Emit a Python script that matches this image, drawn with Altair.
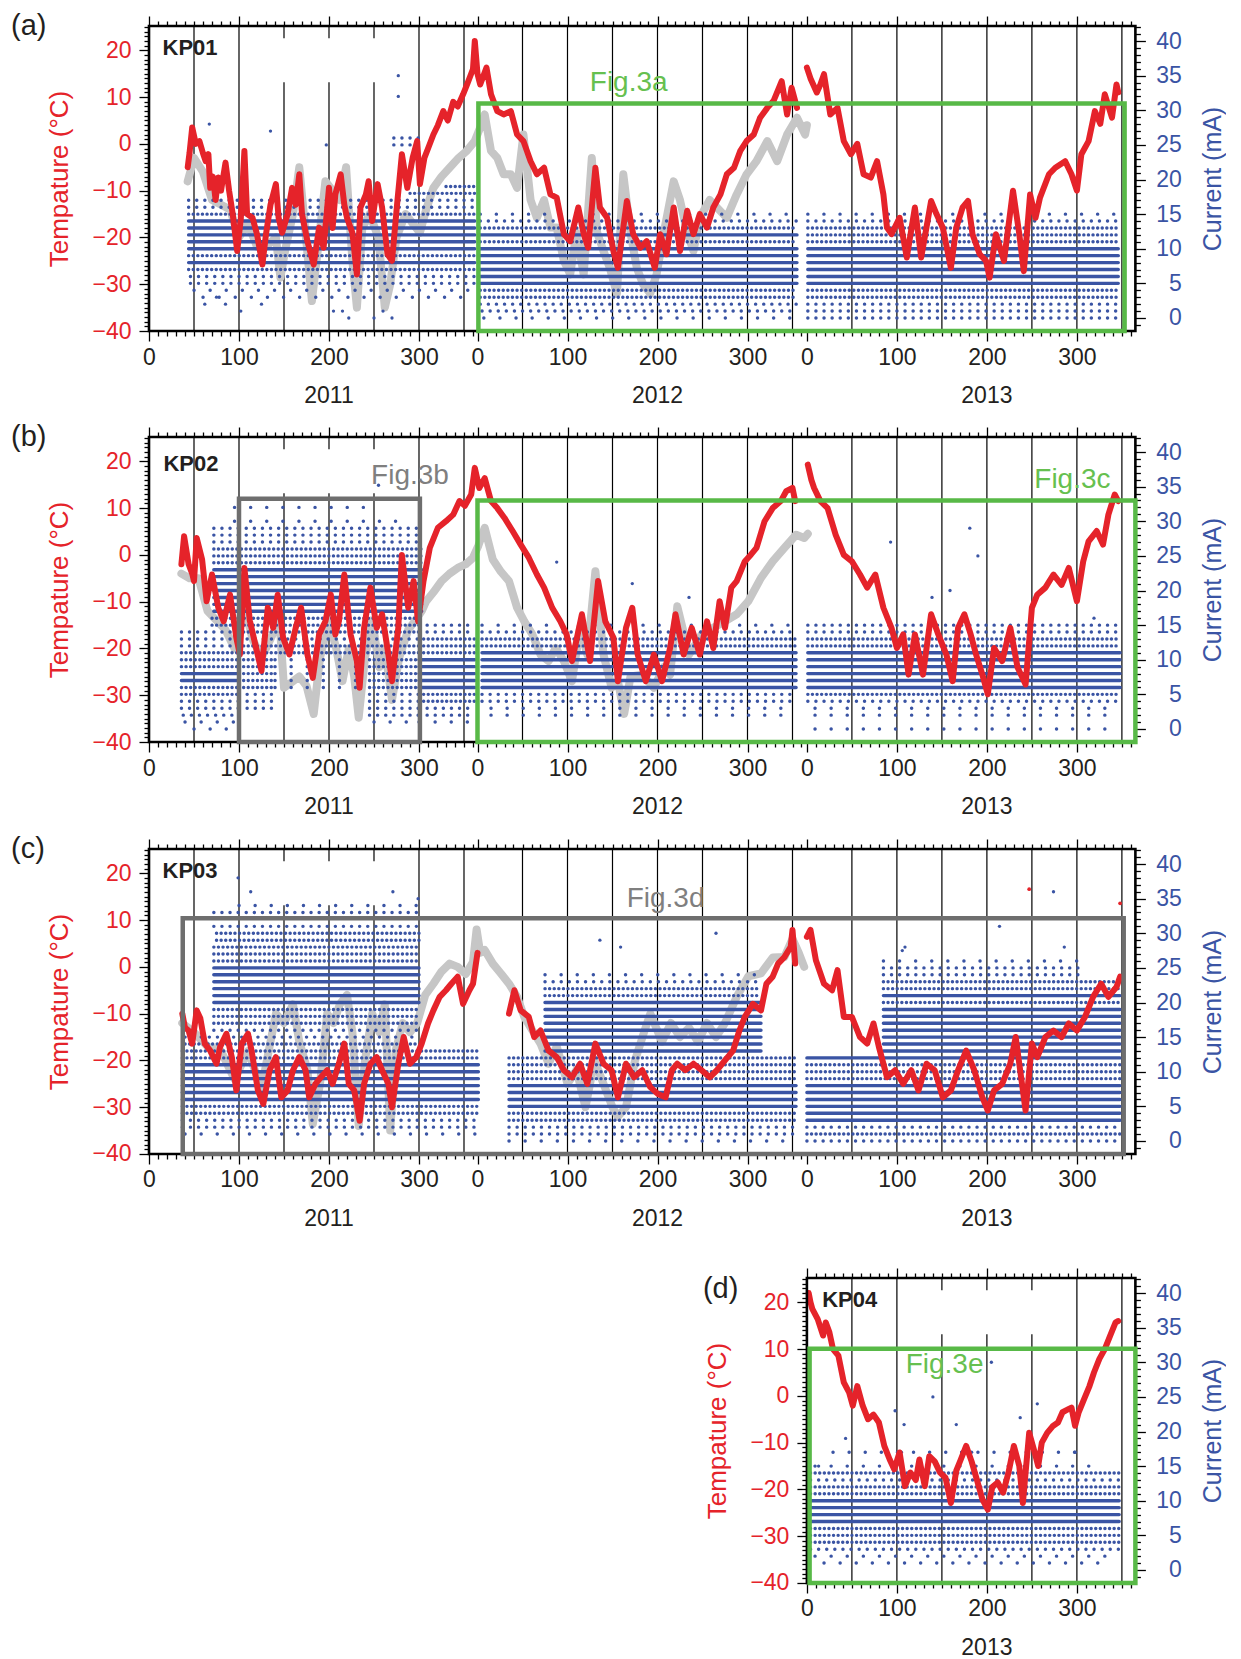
import altair as alt
import pandas as pd

FONT = "Liberation Sans"
RED = "#e5232a"
RED_TXT = "#e5232a"
GRAY = "#c6c6c6"
BLUE = "#3a54a4"
GREEN = "#58b947"
GREEN_TXT = "#66c04f"
BOXGRAY = "#6e6e6e"
GRAYTXT = "#7f7f7f"
INK = "#231f20"

H = 305
W = 986.4
T_DOM = [-40, 25.2]
C_DOM = [-1.88, 42.17]
X_ALL = [0, 1096]

# ---------------- temperature series (day since 2011-01-01, deg C) ----------------
RED_A1 = [(43,-5),(45,-2),(48,3.5),(52,0),(56,0.6),(60,-2),(63,-3.7),(66,-2.2),(68,-9.4),(71,-7),(74,-12),(77,-7.2),(80,-10),(85,-4),(89,-10),(93,-15),(98,-22.9),(102,-16),(106,-1.5),(109,-15),(115,-15.8),(120,-19.3),(126,-25.8),(130,-19.3),(135,-13),(141,-8.6),(144,-15.8),(148,-19),(154,-15),(159,-9.4),(163,-13),(167,-6.5),(170,-15),(176,-20.8),(183,-25.8),(189,-17.9),(194,-22.2),(200,-9.4),(204,-18),(207,-10.8),(213,-6.5),(217,-13),(220,-15.8),(226,-19),(231,-27.9),(235,-13.6),(241,-10.8),(244,-8),(248,-16.5),(254,-8.6),(259,-13.6),(265,-23.6),(270,-25),(276,-12.2),(281,-2.2),(287,-9.4),(293,-2.9),(298,0.6),(301,-8.6),(306,-3),(311,-0.5),(316,2),(321,4),(327,7),(332,5),(338,9),(343,8),(349,10.6),(354,13),(360,16),(362,22),(365,15),(368,12.7),(375,16.3),(380,10.6),(387,7),(394,6.3),(402,7),(409,2),(416,0.6),(424,-3.7),(431,-6.5),(439,-5.1),(446,-10.8),(453,-11.5),(461,-19.3),(468,-20.8),(477,-13.6),(483,-19.3),(488,-22.2),(496,-5.1),(501,-13.6),(509,-15.8),(516,-22.9),(521,-26.5),(531,-12.2),(538,-19.3),(546,-22.2),(553,-20.8),(562,-26.5),(568,-19.3),(575,-23.6),(583,-13.6),(590,-22.9),(598,-14.3),(605,-19.3),(612,-15),(620,-17.9),(627,-13.6),(635,-10.8),(642,-6.5),(650,-5.1),(657,-1.5),(664,0.6),(672,2),(679,5.6),(687,7.7),(694,9.2),(703,13.4),(709,6.3),(714,12),(720,7.7)]
RED_A2 = [(731,16.3),(735,14),(742,11),(746,12.7),(750,14.9),(757,6.3),(765,7.7),(772,0.6),(780,-2.2),(787,0),(794,-6.5),(802,-7.2),(809,-3.7),(816,-10.8),(820,-17.9),(825,-19.3),(834,-15.8),(842,-24.3),(851,-13.6),(858,-24.3),(869,-12.2),(875,-15),(882,-17.9),(891,-26.5),(897,-17.9),(904,-13.6),(910,-12.2),(915,-19.3),(923,-23.6),(930,-25),(934,-28.6),(941,-19.3),(950,-25),(960,-10),(967,-19.3),(972,-27.2),(979,-10.8),(985,-15.8),(990,-11.5),(1000,-6.5),(1007,-5.1),(1018,-3.7),(1025,-6.5),(1031,-10),(1036,-2.2),(1044,0.6),(1051,7),(1057,4.3),(1062,10.6),(1070,5.6),(1075,12.7),(1077,11)]
GRAY_A1 = [(43,-8),(50,-3),(60,-6),(70,-12),(80,-13),(90,-14),(100,-20),(110,-17),(120,-22),(130,-22),(141,-20),(146,-28.6),(152,-22),(160,-15),(167,-5),(172,-15),(181,-33.6),(188,-22),(196,-8),(204,-10),(212,-12),(219,-5),(226,-25),(231,-35),(237,-18),(245,-15),(255,-20),(262,-35),(268,-30),(275,-20),(285,-15),(301,-19),(308,-14),(316,-9.4),(325,-7),(334,-5.1),(344,-3),(353,-1.5),(362,0.6),(368,3.5),(373,6.3),(380,-1.5),(387,-3),(394,-6.5),(402,-6.5),(409,-9.4),(416,2),(424,-12),(431,-15.8),(439,-12),(446,-17.9),(453,-17.9),(461,-25),(468,-27.9),(475,-19),(483,-27.9),(492,-3),(498,-19),(505,-22.9),(512,-26.5),(520,-32),(527,-6.5),(535,-19),(542,-26.5),(549,-30),(557,-32),(564,-27.9),(572,-19),(583,-8),(590,-12),(598,-19),(605,-22.9),(612,-15.8),(623,-12),(631,-13.6),(642,-15.8),(653,-10.8),(664,-6.5),(675,-3.7),(687,0.6),(698,-3.7),(709,2),(720,5.6),(729,2),(731,4)]

RED_B1 = [(36,-2),(39,4),(44,-2),(48,-4),(50,-5.6),(53,3.6),(59,-1),(64,-9.9),(70,-4.2),(77,-11.3),(83,-14.2),(90,-8.5),(97,-17.7),(101,-21.3),(106,-2.8),(112,-14),(119,-19.9),(125,-24.8),(132,-11.3),(138,-15.6),(143,-8.5),(149,-17.7),(156,-21.3),(163,-15.6),(169,-11.3),(176,-21.3),(182,-26.3),(189,-17),(196,-14.2),(202,-8.5),(207,-17),(211,-14.2),(217,-4.2),(224,-17),(231,-22.7),(234,-28.4),(239,-15.6),(246,-7),(253,-15.6),(259,-12.7),(266,-21.3),(270,-27),(277,-15.6),(281,0),(288,-11.3),(294,-5.6),(299,-14.2),(305,-5.6),(312,1.5),(321,5.8),(330,7.2),(338,8.6),(345,11.5),(351,10.5),(358,12.9),(362,18.6),(367,14.3),(373,16.4),(380,11.5),(387,10),(395,7.9),(404,5.1),(413,2.2),(422,-0.6),(431,-4.2),(439,-7),(448,-11.3),(457,-14.2),(464,-17),(470,-22.7),(481,-12.7),(490,-22.7),(499,-5.6),(507,-14.2),(516,-17.7),(521,-27),(530,-15.6),(537,-11.3),(543,-21.3),(552,-27),(561,-21.3),(570,-27),(579,-19.9),(585,-12.7),(594,-21.3),(603,-15.6),(612,-21.3),(620,-14.2),(627,-19.9),(634,-9.9),(640,-15.6),(647,-7),(653,-5.6),(662,-1.4),(669,0.1),(675,1.5),(684,7.2),(693,10),(702,11.5),(708,13.6),(715,14.3),(718,11.5)]
RED_B2 = [(732,19.3),(736,16),(739,14.3),(746,11.5),(754,10),(763,4.3),(772,0),(781,-1.4),(790,-4.2),(798,-7),(807,-4.2),(816,-11.3),(825,-15.6),(831,-19.9),(838,-17),(844,-25.6),(851,-17),(860,-25.6),(869,-12.7),(877,-17),(886,-21.3),(893,-27),(899,-15.6),(906,-12.7),(913,-17),(919,-21.3),(926,-25.6),(932,-29.8),(939,-19.9),(948,-22.7),(957,-15.6),(965,-24),(974,-27.7),(981,-11.3),(987,-8.5),(996,-7),(1005,-4.2),(1014,-6.4),(1022,-2.8),(1031,-9.9),(1038,-1.4),(1044,2.9),(1053,5.1),(1060,2.2),(1066,8.6),(1073,12.9),(1077,11.5)]
GRAY_B1 = [(36,-4),(45,-5),(55,-5),(65,-12),(75,-14),(85,-16),(95,-20),(105,-10),(115,-18),(125,-22),(135,-18),(145,-14),(150,-28.4),(160,-27),(167,-26),(175,-28),(183,-34),(190,-22),(200,-14),(208,-20),(215,-27),(222,-20),(228,-26),(233,-34.8),(240,-22),(248,-14),(256,-24),(262,-20),(270,-31),(278,-22),(288,-16),(296,-14),(303,-12),(308,-9.9),(316,-8),(325,-5.6),(334,-4),(343,-2.8),(352,-2),(360,-0.6),(366,2),(373,5.8),(382,-1),(391,-3.6),(400,-5.6),(409,-11.3),(417,-14.2),(426,-17),(435,-21.3),(444,-22.7),(452,-19.9),(461,-22.7),(470,-27),(479,-15.6),(487,-21.3),(496,-3.5),(505,-21.3),(514,-28.4),(521,-27),(528,-34),(535,-26),(548,-25.6),(561,-28.4),(572,-24),(579,-25.6),(587,-11),(600,-21.3),(614,-17),(627,-15.6),(640,-14.2),(653,-12.7),(666,-9.9),(680,-4.9),(693,-1.4),(706,1.5),(719,4.3),(728,3.6),(732,4.5)]

RED_C1 = [(37,-10),(40,-13),(44,-13.6),(48,-16.4),(53,-9.3),(57,-11),(62,-16.4),(68,-17.9),(75,-20.7),(79,-17.1),(86,-14.3),(92,-19.3),(97,-26.4),(103,-16.4),(110,-14.3),(114,-17.9),(121,-26.4),(127,-29.3),(134,-22.1),(141,-19.3),(147,-27.9),(154,-26.4),(160,-22.1),(167,-19.3),(174,-22.1),(178,-27.9),(185,-25),(191,-23.6),(198,-22.1),(204,-25),(211,-20.7),(217,-16.4),(222,-25),(228,-26.4),(234,-32.9),(239,-25),(246,-20.7),(253,-19.3),(259,-22.1),(266,-25),(270,-30),(277,-20.7),(283,-15),(290,-20.7),(297,-19.3),(303,-16.4),(310,-12.1),(316,-9.3),(323,-6.4),(330,-5),(336,-3.6),(343,-2.1),(349,-7.9),(356,-5),(360,-3.6),(365,3)]
RED_C2 = [(400,-10),(406,-5),(413,-9.3),(422,-10.7),(428,-15),(435,-13.6),(444,-17.9),(453,-19.3),(461,-22.1),(470,-23.6),(479,-20.7),(487,-25),(496,-16.4),(505,-20.7),(514,-22.1),(521,-27.9),(530,-20.7),(539,-23.6),(548,-22.1),(557,-25.7),(565,-27.1),(574,-27.9),(581,-22.1),(587,-20.7),(596,-22.1),(605,-20.7),(614,-22.1),(623,-23.6),(631,-22.1),(640,-20),(649,-17.9),(656,-13.6),(662,-10.7),(671,-7.9),(680,-9.3),(686,-3.6),(693,-2.1),(699,0.7),(706,2.1),(713,4.3),(715,7.9),(718,0.7)]
RED_C3 = [(731,6.4),(735,7.9),(741,1.4),(750,-3.6),(759,-5),(765,-0.7),(772,-10.7),(781,-10.7),(790,-15),(798,-16.4),(805,-12.1),(811,-17.1),(820,-23.6),(829,-22.1),(838,-25),(847,-22.1),(855,-26.4),(864,-20.7),(873,-22.1),(882,-27.9),(891,-26.4),(899,-22.1),(908,-17.9),(917,-22.1),(926,-27.9),(932,-30.7),(939,-26.4),(948,-25),(957,-20.7),(963,-15),(970,-25),(974,-30.7),(981,-16.4),(987,-19.3),(996,-15),(1005,-13.6),(1014,-15),(1022,-12.1),(1031,-13.6),(1040,-10.7),(1049,-6.4),(1058,-3.6),(1066,-6.4),(1075,-4.3),(1079,-2.1)]
RED_C_PTS = [(978,16.6),(1079,13.6)]
GRAY_C1 = [(37,-12),(50,-14),(65,-17),(80,-18),(95,-24),(110,-18),(125,-26),(141,-10),(150,-12),(160,-8),(167,-16),(176,-22),(182,-33.6),(190,-25),(198,-10),(205,-12),(212,-8),(220,-6),(226,-14),(233,-34),(240,-20),(248,-10),(256,-14),(262,-8),(268,-35),(274,-18),(282,-12),(290,-14),(298,-12),(307,-6),(316,-3.6),(325,-1),(334,0.7),(343,0),(352,-1.5),(360,1),(364,8),(368,3),(373,3.6),(382,0.7),(391,-1.4),(400,-3.6),(409,-6.4),(417,-10.7),(426,-13.6),(435,-16.4),(444,-20.7),(453,-17),(465,-25),(475,-22),(485,-30),(495,-20),(505,-25),(515,-30),(521,-32),(530,-30),(540,-20),(550,-14),(557,-10),(570,-16),(580,-12),(590,-15),(600,-13),(610,-16),(620,-12),(630,-15),(640,-12),(653,-6.4),(666,-2),(680,-1.4),(693,2),(706,2.1),(715,6),(722,3),(728,0)]

RED_D1 = [(733,22),(735,20),(737,18.6),(743,16.4),(749,12.9),(752,15.7),(756,13.6),(760,10),(766,8.6),(772,2.9),(778,0.7),(782,-2.1),(787,2.1),(793,-2.1),(799,-5),(805,-4),(811,-5.7),(817,-10.7),(823,-13.6),(828,-15.7),(834,-12.1),(840,-19.3),(846,-16.4),(852,-18),(856,-13.6),(862,-19.3),(867,-12.9),(873,-14),(879,-16.4),(885,-17.5),(891,-22.9),(897,-16),(902,-13.6),(908,-10.7),(914,-14),(920,-18),(926,-22.1),(932,-24.3),(937,-19.5),(943,-18.5),(949,-20.7),(955,-16.4),(961,-10.7),(967,-15),(971,-22.9),(974,-16.4),(978,-7.9),(984,-12),(988,-15),(992,-10),(998,-7.9),(1004,-6.5),(1010,-5.7),(1015,-3.5),(1021,-2.9),(1025,-2.5),(1029,-6.4),(1033,-3.5),(1039,-0.7),(1045,2.1),(1050,5),(1056,7.9),(1062,10),(1068,12.9),(1074,15.7),(1077,16)]

# ---------------- current rows: (mA level, first day, last day, density) ----------------
ROWS_A = [(17,44,362,'S'),(16,44,362,'S'),(15,44,362,'M'),(14,44,362,'D'),(13,44,362,'D'),(12,44,362,'D'),(11,44,362,'D'),(10,44,362,'D'),(9,44,362,'M'),(8,44,362,'D'),(7,44,362,'M'),(6,46,362,'S'),(5,46,362,'S'),(4,50,362,'V'),(3,60,362,'V'),
          (19,330,362,'M'),(18,290,362,'M'),(26,272,300,'S'),(25,272,300,'S'),
          (15,368,720,'V'),(14,368,720,'S'),(13,368,720,'M'),(12,368,720,'D'),(11,368,720,'M'),(10,368,720,'D'),(9,368,720,'D'),(8,368,720,'D'),(7,368,720,'D'),(6,368,720,'D'),(5,368,720,'D'),(4,368,720,'M'),(3,368,720,'M'),(2,368,720,'S'),(1,370,720,'S'),(0,372,715,'V'),
          (15,732,1077,'V'),(14,732,1077,'S'),(13,732,1077,'M'),(12,732,1077,'M'),(11,732,1077,'M'),(10,732,1077,'D'),(9,732,1077,'D'),(8,732,1077,'D'),(7,732,1077,'D'),(6,732,1077,'D'),(5,732,1077,'D'),(4,732,1077,'M'),(3,732,1077,'M'),(2,732,1077,'S'),(1,732,1077,'S'),(0,732,1077,'S')]
ROWS_B = [(14,36,100,'S'),(13,36,100,'S'),(12,36,100,'S'),(11,36,100,'M'),(10,36,100,'M'),(9,36,100,'M'),(8,36,100,'D'),(7,36,100,'D'),(6,36,100,'M'),(5,36,100,'M'),(4,36,100,'S'),(3,36,100,'S'),(2,38,100,'S'),(1,40,95,'V'),(0,50,90,'V'),
          (32,95,250,'V'),(30,95,290,'V'),(29,72,300,'S'),(28,72,300,'S'),(27,72,300,'S'),(26,72,303,'M'),(25,72,303,'M'),(24,72,303,'M'),(23,72,303,'D'),(22,72,303,'D'),(21,72,303,'D'),(20,72,303,'D'),(19,72,303,'D'),(18,72,303,'D'),(17,72,303,'D'),(16,70,303,'M'),(15,70,303,'M'),(14,100,303,'M'),
          (13,100,300,'S'),(12,100,300,'M'),(11,100,300,'M'),
          (10,100,140,'M'),(9,100,140,'M'),(8,100,140,'M'),(7,100,140,'M'),(6,100,140,'M'),(5,100,140,'S'),(4,100,140,'S'),(3,100,140,'S'),
          (10,140,245,'V'),(9,140,245,'V'),(8,140,245,'V'),(7,140,245,'V'),(6,140,245,'V'),
          (10,245,300,'M'),(9,245,300,'M'),(8,245,300,'M'),(7,245,300,'M'),(6,245,300,'M'),(5,245,300,'S'),(4,245,300,'S'),(3,245,300,'S'),(2,245,300,'S'),(1,250,300,'V'),
          (15,300,362,'S'),(14,300,362,'S'),(13,300,362,'M'),(12,300,362,'M'),(11,300,362,'M'),(10,300,362,'D'),(9,300,362,'D'),(8,300,362,'D'),(7,300,362,'D'),(6,300,362,'D'),(5,300,362,'M'),(4,300,362,'M'),(3,300,362,'S'),(2,300,362,'S'),(1,300,362,'V'),
          (15,370,719,'V'),(14,370,719,'S'),(13,370,719,'M'),(12,370,719,'M'),(11,370,719,'D'),(10,370,719,'D'),(9,370,719,'D'),(8,370,719,'D'),(7,370,719,'D'),(6,370,719,'D'),(5,370,719,'S'),(4,370,719,'S'),(3,380,719,'V'),(2,380,719,'V'),
          (15,732,1079,'S'),(14,732,1079,'S'),(13,732,1079,'M'),(12,732,1079,'M'),(11,732,1079,'D'),(10,732,1079,'D'),(9,732,1079,'D'),(8,732,1079,'D'),(7,732,1079,'D'),(6,732,1079,'D'),(5,732,1079,'M'),(4,732,1079,'S'),(3,740,1079,'V'),(2,740,1079,'V'),(0,740,1079,'V')]
ROWS_C = [(34,100,300,'V'),(33,72,300,'S'),(31,72,300,'S'),(30,75,300,'M'),(29,75,300,'M'),(28,72,300,'M'),(27,72,300,'M'),(26,72,300,'M'),(25,72,300,'D'),(24,72,300,'D'),(23,72,300,'D'),(22,72,300,'D'),(21,72,300,'D'),(20,72,300,'D'),(19,72,300,'M'),(18,72,300,'M'),(17,72,300,'M'),(16,72,300,'S'),(15,40,300,'S'),(14,40,300,'M'),
          (13,37,366,'M'),(12,37,366,'M'),(11,37,366,'D'),(10,37,366,'D'),(9,37,366,'D'),(8,37,366,'D'),(7,37,366,'D'),(6,37,366,'D'),(5,37,366,'M'),(4,37,366,'M'),(3,37,366,'S'),(2,37,366,'S'),(1,40,366,'V'),
          (24,440,680,'V'),(23,440,680,'S'),(22,440,680,'M'),(21,440,680,'M'),(20,440,680,'D'),(19,440,680,'D'),(18,440,680,'D'),(17,440,680,'D'),(16,440,680,'D'),(15,440,680,'D'),(14,440,680,'D'),(13,440,680,'D'),
          (12,400,719,'M'),(11,400,719,'M'),(10,400,719,'M'),(9,400,719,'M'),(8,400,719,'D'),(7,400,719,'D'),(6,400,719,'D'),(5,400,719,'D'),(4,400,719,'M'),(3,400,719,'M'),(2,400,719,'S'),(1,400,719,'S'),(0,400,719,'V'),
          (26,816,1040,'V'),(25,816,1040,'S'),(24,816,1040,'S'),(23,816,1079,'M'),(22,816,1079,'M'),(21,816,1079,'D'),(20,816,1079,'M'),(19,816,1079,'D'),(18,816,1079,'D'),(17,816,1079,'D'),(16,816,1079,'D'),(15,816,1079,'D'),(14,816,1079,'D'),(13,816,1079,'D'),
          (12,731,1079,'D'),(11,731,1079,'M'),(10,731,1079,'M'),(9,731,1079,'M'),(8,731,1079,'D'),(7,731,1079,'D'),(6,731,1079,'D'),(5,731,1079,'D'),(4,731,1079,'D'),(3,731,1079,'D'),(2,731,1079,'S'),(1,731,1079,'M'),(0,731,1079,'S')]
ROWS_D = [(17,760,1040,'V'),(15,740,1060,'V'),(14,735,1078,'M'),(13,735,1078,'S'),(12,735,1078,'M'),(11,735,1078,'M'),(10,735,1078,'D'),(9,735,1078,'D'),(8,735,1078,'D'),(7,735,1078,'D'),(6,735,1078,'M'),(5,735,1078,'M'),(4,735,1078,'M'),(3,735,1078,'S'),(2,740,1078,'V'),(1,750,1060,'V')]

# scattered current readings (day, mA)
DOTS_A = [(277,35),(277,32),(67,28),(135,27),(197,25),(102,1),(125,2),(222,0),(250,0),(270,0),(205,1),(215,1),(260,1),(62,2),(85,2),(75,3)]
DOTS_B = [(255,35.2),(453,24.1),(537,21),(824,27),(912,29),(921,25),(890,20),(870,19),(1050,16),(600,19),(640,16)]
DOTS_C = [(99,38),(113,36),(271,36),(299,35),(501,29),(630,30),(524,28),(945,31),(1005,36),(1017,28),(837,27.5),(840,28)]
DOTS_D = [(829,23),(871,25),(839,21),(897,21),(936,30),(968,22),(987,24),(774,19),(1029,17),(836,17),(903,17),(914,17),(744,15)]

# vertical reference lines (days)
VL_FULL = [50,100,300,350,415,465,515,565,615,665,715,781,831,881,931,981,1031,1081]
VL_SPLIT = [150,200,250]
VL_D_FULL = [781,831,1031,1081]
VL_D_SPLIT = [881,931,981]

# boxes: (x0, x1, top deg C, colour)
BOX_A = [(366,1084,8.65,GREEN)]
BOX_B = [(100,301,12.0,BOXGRAY),(365,1096,11.6,GREEN)]
BOX_C = [(37.5,1083,10.4,BOXGRAY)]
BOX_D = [(734,1096,10.1,GREEN)]

FIG_A = [(533,13.1,"Fig.3a",GREEN_TXT)]
FIG_B = [(290,16.9,"Fig.3b",GRAYTXT),(1026,16.1,"Fig.3c",GREEN_TXT)]
FIG_C = [(574,14.6,"Fig.3d",GRAYTXT)]
FIG_D = [(884,6.6,"Fig.3e",GREEN_TXT)]

YEARS_ALL = [(200,"2011"),(565,"2012"),(931,"2013")]
YEARS_D = [(931,"2013")]


def seg_df(segs):
    rows = []
    for k, seg in enumerate(segs):
        for d, t in seg:
            rows.append({"d": d, "t": t, "seg": k})
    return pd.DataFrame(rows)


def make_panel(label, lab_xy, kp, kp_xy, span, reds, grays, red_pts, rows, dots,
               vfull, vsplit, boxes, figs, years, pin):
    xs = alt.Scale(domain=X_ALL, nice=False, zero=False)
    ts = alt.Scale(domain=T_DOM, nice=False, zero=False)
    cs = alt.Scale(domain=C_DOM, nice=False, zero=False)
    # left axes sit at the start of the panel's span
    left_off = -(span[0] - X_ALL[0]) / (X_ALL[1] - X_ALL[0]) * W

    def X(f):
        return alt.X(f, type="quantitative", scale=xs, axis=None)

    def YT(f):
        return alt.Y(f, type="quantitative", scale=ts, axis=None)

    def YC(f):
        return alt.Y(f, type="quantitative", scale=cs, axis=None)

    one = pd.DataFrame({"d": [span[0]], "t": [0.0], "c": [0.0]})

    vrows = [{"d": d, "top": T_DOM[1], "bot": T_DOM[0]} for d in vfull]
    for d in vsplit:
        vrows.append({"d": d, "top": T_DOM[1], "bot": 22.6})
        vrows.append({"d": d, "top": 13.2, "bot": T_DOM[0]})
    vdf = pd.DataFrame(vrows)

    back = []
    back.append(alt.Chart(vdf).mark_rule(color="black", strokeWidth=1.2).encode(
        x=X("d"), y=YT("top"), y2="bot:Q"))
    if grays:
        back.append(alt.Chart(seg_df(grays)).mark_line(color=GRAY, strokeWidth=8, strokeJoin="round", strokeCap="round").encode(
            x=X("d"), y=YT("t"), detail="seg:N"))
    back_layer = alt.layer(*back)

    # current (right axis)
    rdf = pd.DataFrame(rows, columns=["lvl", "x0", "x1", "dens"])
    ddf = pd.DataFrame(dots, columns=["d", "c"])
    minor_c = [v for v in range(-1, 43) if v % 5 != 0]
    cur = [
        alt.Chart(rdf).mark_rule(color=BLUE, strokeWidth=3.4, strokeCap="round").encode(
            x=X("x0"), x2="x1:Q", y=YC("lvl"),
            strokeDash=alt.StrokeDash("dens:N", legend=None,
                                      scale=alt.Scale(domain=["D", "M", "S", "V"],
                                                      range=[[1, 0], [0.1, 4.5], [0.1, 8], [0.1, 16]]))),
        alt.Chart(ddf).mark_circle(color=BLUE, size=11, opacity=1).encode(x=X("d"), y=YC("c")),
        alt.Chart(one).mark_point(opacity=0).encode(
            x=X("d"),
            y=alt.Y("c:Q", scale=cs, axis=alt.Axis(orient="right", values=list(range(0, 41, 5)), tickSize=10,
                                                   labelAlign="right", labelPadding=36, labelColor=BLUE,
                                                   labelFlush=False, title="Current (mA)", titleColor=BLUE,
                                                   titleFontSize=25, titleAngle=270, titlePadding=44))),
        alt.Chart(one).mark_point(opacity=0).encode(
            x=X("d"),
            y=alt.Y("c:Q", scale=cs, axis=alt.Axis(orient="right", values=minor_c, tickSize=5,
                                                   labels=False, title=None))),
    ]
    cur_layer = alt.layer(*cur).resolve_axis(y="independent")

    # front temperature layer
    front = []
    front.append(alt.Chart(seg_df(reds)).mark_line(color=RED, strokeWidth=6, strokeJoin="round", strokeCap="round").encode(
        x=X("d"), y=YT("t"), detail="seg:N"))
    if red_pts:
        front.append(alt.Chart(pd.DataFrame(red_pts, columns=["d", "t"])).mark_circle(color=RED, size=14, opacity=1).encode(
            x=X("d"), y=YT("t")))
    # plot frame
    frame = pd.DataFrame([{"x0": span[0], "x1": span[1], "top": T_DOM[1], "bot": T_DOM[0]}])
    front.append(alt.Chart(frame).mark_rect(filled=False, strokeWidth=2.6, color="black").encode(
        x=X("x0"), x2="x1:Q", y=YT("top"), y2="bot:Q"))
    bdf = pd.DataFrame(boxes, columns=["x0", "x1", "top", "col"])
    bdf["bot"] = T_DOM[0]
    front.append(alt.Chart(bdf).mark_rect(filled=False, strokeWidth=4.5).encode(
        x=X("x0"), x2="x1:Q", y=YT("top"), y2="bot:Q", stroke=alt.Stroke("col:N", scale=None)))
    fdf = pd.DataFrame(figs, columns=["d", "t", "s", "col"])
    front.append(alt.Chart(fdf).mark_text(font=FONT, fontSize=28, align="center", baseline="middle").encode(
        x=X("d"), y=YT("t"), text="s:N", color=alt.Color("col:N", scale=None)))
    front.append(alt.Chart(pd.DataFrame([{"d": kp_xy[0], "t": kp_xy[1], "s": kp}])).mark_text(
        font=FONT, fontSize=22, fontWeight="bold", align="left", baseline="middle", color=INK).encode(
        x=X("d"), y=YT("t"), text="s:N"))
    front.append(alt.Chart(pd.DataFrame(years, columns=["d", "s"])).mark_text(
        font=FONT, fontSize=23, align="center", baseline="middle", color=INK).encode(
        x=X("d"), y=alt.value(H + 65), text="s:N"))
    front.append(alt.Chart(one).mark_text(font=FONT, fontSize=29, align="left", baseline="middle", color=INK).encode(
        x=alt.value(lab_xy[0] - left_off), y=alt.value(lab_xy[1]), text=alt.value(label)))
    front.append(alt.Chart(one).mark_rule(strokeOpacity=0, strokeWidth=1, color="white").encode(
        x=alt.value(pin[0]), y=alt.value(-pin[1]), y2=alt.value(H + pin[2])))

    majors = [v for v in [0, 100, 200, 300, 365, 465, 565, 665, 731, 831, 931, 1031] if span[0] <= v <= span[1]]
    minors = [s + k for s in (0, 365, 731) for k in range(10, 361, 10) if k % 100 != 0 and span[0] <= s + k <= span[1]]
    lexpr = "'' + (datum.value >= 731 ? datum.value - 731 : (datum.value >= 365 ? datum.value - 365 : datum.value))"
    minor_t = [v for v in range(-40, 26) if v % 10 != 0]
    front.append(alt.Chart(one).mark_point(opacity=0).encode(
        x=alt.X("d:Q", scale=xs, axis=alt.Axis(orient="bottom", values=majors, labelExpr=lexpr, tickSize=10,
                                               labelPadding=5, labelColor=INK, labelFlush=False,
                                               labelOverlap=False, title=None)),
        y=alt.Y("t:Q", scale=ts, axis=alt.Axis(orient="left", values=list(range(-40, 21, 10)), tickSize=10,
                                               labelPadding=8, labelColor=RED_TXT, labelFlush=False,
                                               offset=left_off,
                                               title="Tempature (°C)", titleColor=RED_TXT, titlePadding=19))))
    front.append(alt.Chart(one).mark_point(opacity=0).encode(
        x=alt.X("d:Q", scale=xs, axis=alt.Axis(orient="bottom", values=minors, tickSize=5, labels=False, title=None)),
        y=alt.Y("t:Q", scale=ts, axis=alt.Axis(orient="left", values=minor_t, tickSize=5, labels=False,
                                               offset=left_off, title=None))))
    front.append(alt.Chart(one).mark_point(opacity=0).encode(
        x=alt.X("d:Q", scale=xs, axis=alt.Axis(orient="top", values=majors, tickSize=10, labels=False, title=None)),
        y=YT("t")))
    front.append(alt.Chart(one).mark_point(opacity=0).encode(
        x=alt.X("d:Q", scale=xs, axis=alt.Axis(orient="top", values=minors, tickSize=5, labels=False, title=None)),
        y=YT("t")))
    front_layer = alt.layer(*front).resolve_axis(x="independent", y="independent")

    return alt.layer(back_layer, cur_layer, front_layer).resolve_scale(y="independent").properties(
        width=W, height=H)


FULL = [0, 1096]
ONLY13 = [731, 1096]
pa = make_panel("(a)", (-138, 0), "KP01", (15, 20.5), FULL,
                [RED_A1, RED_A2], [GRAY_A1], [], ROWS_A, DOTS_A,
                VL_FULL, VL_SPLIT, BOX_A, FIG_A, YEARS_ALL, (-140, 17, 81))
pb = make_panel("(b)", (-138, 0), "KP02", (16, 19.4), FULL,
                [RED_B1, RED_B2], [GRAY_B1], [], ROWS_B, DOTS_B,
                VL_FULL, VL_SPLIT, BOX_B, FIG_B, YEARS_ALL, (-140, 23, 81))
pc = make_panel("(c)", (-138, 0), "KP03", (15, 20.6), FULL,
                [RED_C1, RED_C2, RED_C3], [GRAY_C1], RED_C_PTS, ROWS_C, DOTS_C,
                VL_FULL, VL_SPLIT, BOX_C, FIG_C, YEARS_ALL, (-140, 24, 81))
pd_ = make_panel("(d)", (-104, 11), "KP04", (748, 20.6), ONLY13,
                 [RED_D1], [], [], ROWS_D, DOTS_D,
                 VL_D_FULL, VL_D_SPLIT, BOX_D, FIG_D, YEARS_D, (-140, 41, 81))

chart = alt.vconcat(pa, pb, pc, pd_, spacing=0).resolve_scale(
    x="independent", y="independent"
).properties(
    padding={"left": 0, "top": 0, "right": 0, "bottom": 0}
).configure_view(
    stroke="transparent"
).configure_axis(
    labelFont=FONT, titleFont=FONT, labelFontSize=23, titleFontSize=26, tickColor="black",
    tickWidth=1.3, domain=False, grid=False, titleFontWeight="normal"
)

chart.save("out.html", embed_options={"renderer": "svg", "actions": False})
